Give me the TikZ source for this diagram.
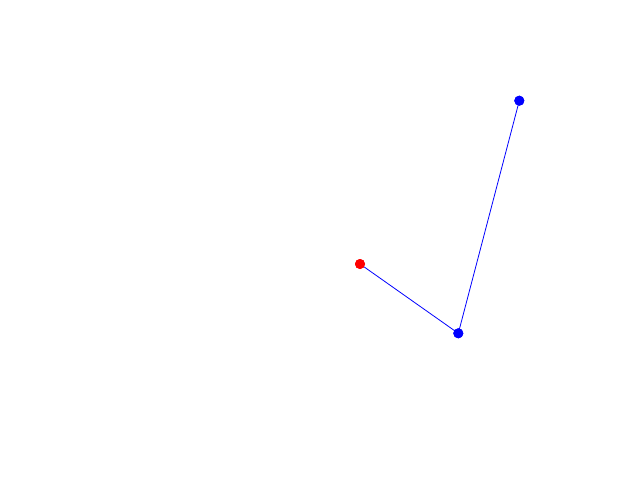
\documentclass[tikz,border=0pt]{standalone}
\begin{document}
\begin{tikzpicture}[x=1pt,y=-1pt,
  dotnode/.style={circle,inner sep=0pt,minimum size=10pt,draw=none},
  link/.style={blue,line width=0.8pt}]
\useasboundingbox (0,0) rectangle (640,480);
\node[dotnode,fill=red] (a) at (360,264) {};
\node[dotnode,fill=blue] (b) at (458.3,333.3) {};
\node[dotnode,fill=blue] (c) at (519.3,100.7) {};
\draw[link] (a.center) -- (b.center) -- (c.center);
\fill[red] (a.center) circle (5pt);
\fill[blue] (b.center) circle (5pt);
\fill[blue] (c.center) circle (5pt);
\end{tikzpicture}
\end{document}
